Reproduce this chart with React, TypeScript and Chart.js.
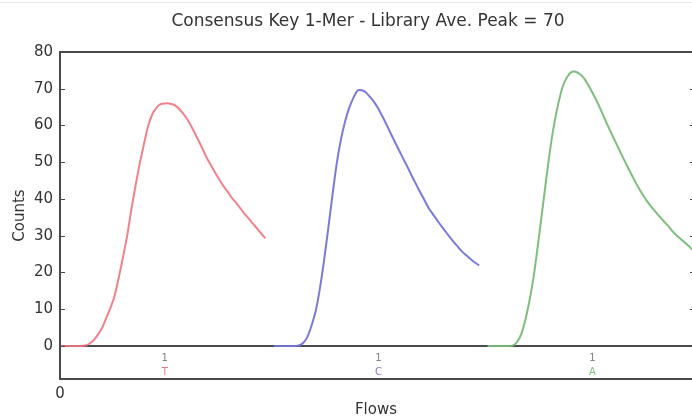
import React, { useEffect, useRef } from "react";
import { Chart, registerables } from "chart.js";

Chart.register(...registerables);

// Counts per flow position for each key nucleotide (1-mer)
const countsT = [0, 0, 0, 0, 0, 0, 0.1, 0.6, 1.5, 3.0, 4.8, 7.5, 10.2, 13.5, 18.5, 24, 29.8, 37, 43.5, 49.5, 54.8, 59.8, 63, 64.8, 65.8, 66, 66, 65.7, 65, 63.8, 62.3, 60.5, 58.3, 56, 53.7, 51.2, 49.2, 47.2, 45.3, 43.5, 42, 40.3, 39, 37.5, 36, 34.7, 33.3, 32, 30.6, 29.3];
const countsC = [0, 0, 0, 0, 0, 0, 0.1, 0.8, 2.4, 5.5, 9.5, 15.6, 23.3, 32, 41, 49.5, 56, 61, 64.8, 67.5, 69.5, 69.6, 69, 67.7, 66.3, 64.5, 62.3, 60, 57.6, 55.3, 53, 50.7, 48.5, 46.1, 43.9, 41.7, 39.6, 37.4, 35.8, 34.2, 32.6, 31.1, 29.6, 28.2, 26.9, 25.6, 24.6, 23.6, 22.7, 21.9];
const countsA = [0, 0, 0, 0, 0, 0, 0.1, 1.0, 3.1, 7, 12.3, 18.8, 27.2, 36.3, 45.3, 54, 61, 66.5, 70.8, 73.2, 74.5, 74.6, 74, 72.9, 71.1, 69, 66.8, 64.3, 61.7, 59.2, 56.8, 54.4, 52, 49.7, 47.4, 45.2, 43.1, 41.2, 39.5, 38, 36.6, 35.3, 34, 32.8, 31.4, 30.2, 29.2, 28.2, 27.2, 26.0];

const keyLetters = ["T", "C", "A"];
const merLabels = ["1", "1", "1"];
const segmentStarts = [0, 51, 102];
const labelOffset = 25;
const yTickValues = [0, 10, 20, 30, 40, 50, 60, 70, 80];
const xTickValues = [0];
const yMin = -9;
const yMax = 80;
const xMin = 0;
const xMax = 151.5;

const lineColors = ["rgba(240,115,125,0.9)", "rgba(115,115,215,0.95)", "rgba(120,185,120,0.95)"];
const letterColors = ["#e87a82", "#7f7fd0", "#7fbf7f"];

const FONT = "'DejaVu Sans', sans-serif";
const AXIS = "#4a4a4a";

export default function App() {
  const ref = useRef<HTMLCanvasElement | null>(null);

  useEffect(() => {
    if (!ref.current) return;
    const series = [countsT, countsC, countsA];
    const datasets = series.map((arr, s) => ({
      label: keyLetters[s],
      data: arr.map((v, i) => ({ x: segmentStarts[s] + i, y: v })),
      borderColor: lineColors[s],
      borderWidth: 2,
      pointRadius: 0,
      tension: 0.2,
      fill: false,
    }));

    const decor = {
      id: "decor",
      beforeDatasetsDraw(chart: any) {
        const { ctx, chartArea, scales } = chart;
        const y0 = scales.y.getPixelForValue(0);
        ctx.save();
        ctx.strokeStyle = AXIS;
        ctx.lineWidth = 2;
        ctx.beginPath();
        ctx.moveTo(chartArea.left, y0);
        ctx.lineTo(chartArea.right, y0);
        ctx.stroke();
        ctx.restore();
      },
      afterDatasetsDraw(chart: any) {
        const { ctx, chartArea, scales } = chart;
        const { left, right, top, bottom } = chartArea;
        ctx.save();
        // faint page line at top
        ctx.strokeStyle = "#e6e6e6";
        ctx.lineWidth = 1;
        ctx.beginPath();
        ctx.moveTo(0, 2.5);
        ctx.lineTo(chart.width, 2.5);
        ctx.stroke();
        // frame
        ctx.strokeStyle = AXIS;
        ctx.lineWidth = 2;
        ctx.strokeRect(left, top, right - left, bottom - top);
        // inward ticks
        ctx.lineWidth = 1;
        ctx.beginPath();
        yTickValues.forEach((v) => {
          const py = Math.round(scales.y.getPixelForValue(v)) + 0.5;
          ctx.moveTo(left, py);
          ctx.lineTo(left + 5, py);
          ctx.moveTo(right, py);
          ctx.lineTo(right - 5, py);
        });
        ctx.stroke();
        // key labels inside plot
        ctx.textAlign = "center";
        ctx.textBaseline = "middle";
        ctx.font = `10px ${FONT}`;
        segmentStarts.forEach((s, k) => {
          const px = scales.x.getPixelForValue(s + labelOffset);
          ctx.fillStyle = "#808080";
          ctx.fillText(merLabels[k], px, 358);
          ctx.fillStyle = letterColors[k];
          ctx.fillText(keyLetters[k], px, 372);
        });
        // titles
        ctx.fillStyle = "#333";
        ctx.font = `17px ${FONT}`;
        ctx.fillText("Consensus Key 1-Mer - Library Ave. Peak = 70", 368, 22);
        ctx.font = `15px ${FONT}`;
        ctx.fillText("Flows", 376, 410);
        ctx.save();
        ctx.translate(20, (top + bottom) / 2);
        ctx.rotate(-Math.PI / 2);
        ctx.fillText("Counts", 0, 0);
        ctx.restore();
        ctx.restore();
      },
    };

    const chart = new Chart(ref.current, {
      type: "line",
      data: { datasets },
      options: {
        animation: false,
        responsive: false,
        maintainAspectRatio: false,
        layout: { padding: { top: 52, right: 5, left: 0, bottom: 0 } },
        plugins: { legend: { display: false }, title: { display: false }, tooltip: { enabled: false } },
        scales: {
          x: {
            type: "linear",
            min: xMin,
            max: xMax,
            grid: { display: false, drawTicks: false },
            border: { display: false },
            afterBuildTicks: (scale: any) => {
              scale.ticks = xTickValues.map((v) => ({ value: v }));
            },
            afterFit: (scale: any) => {
              scale.height = 40;
            },
            ticks: { padding: 6, color: "#333", font: { family: FONT, size: 15 }, maxRotation: 0 },
          },
          y: {
            min: yMin,
            max: yMax,
            grid: { display: false, drawTicks: false },
            border: { display: false },
            afterBuildTicks: (scale: any) => {
              scale.ticks = yTickValues.map((v) => ({ value: v }));
            },
            afterFit: (scale: any) => {
              scale.width = 60;
            },
            ticks: { padding: 7, color: "#333", font: { family: FONT, size: 15 } },
          },
        },
      },
      plugins: [decor],
    });
    return () => chart.destroy();
  }, []);

  return (
    <div style={{ position: "fixed", left: 0, top: 0, width: 700, height: 419, background: "#fff" }}>
      <canvas ref={ref} width={700} height={419} style={{ display: "block" }} />
    </div>
  );
}
